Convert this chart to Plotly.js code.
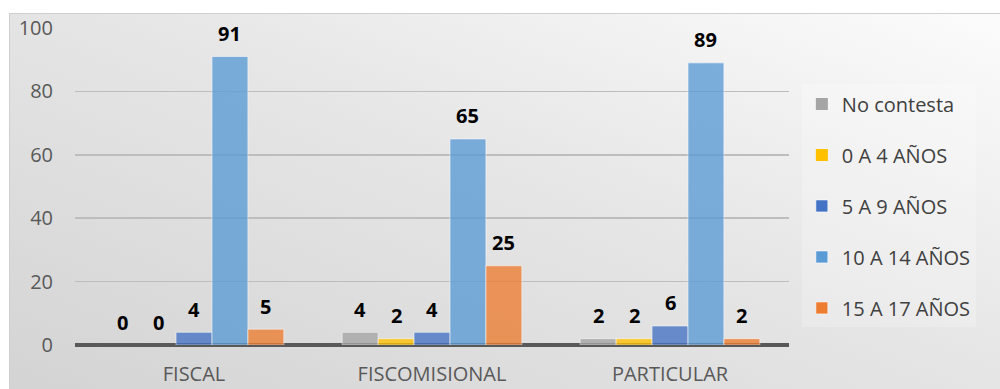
<!DOCTYPE html>
<html>
<head>
<meta charset="utf-8">
<script src="https://cdn.plot.ly/plotly-3.0.1.min.js"></script>
<style>
  html, body { margin: 0; padding: 0; background: #ffffff; }
  #frame {
    position: absolute; left: 9px; top: 13px; width: 1000px; height: 390px;
    border: 1px solid #cfcfcf; box-sizing: border-box;
    background: linear-gradient(to bottom left, #fcfcfc 0%, #e6e6e6 45%, #d3d3d3 100%);
  }
  #chart { position: absolute; left: 0; top: 0; width: 1000px; height: 389px; }
</style>
</head>
<body>
<div id="frame"></div>
<div id="chart"></div>
<script>
// Tipo de institución
const categories = ["FISCAL", "FISCOMISIONAL", "PARTICULAR"];

// Grupos de edad
const seriesNames = ["No contesta", "0 A 4 AÑOS", "5 A 9 AÑOS", "10 A 14 AÑOS", "15 A 17 AÑOS"];
const noContesta = [0, 4, 2];
const edad0a4 = [0, 2, 2];
const edad5a9 = [4, 4, 6];
const edad10a14 = [91, 65, 89];
const edad15a17 = [5, 25, 2];
const seriesValues = [noContesta, edad0a4, edad5a9, edad10a14, edad15a17];
const seriesColors = ["#a5a5a5", "#ffc000", "#4472c4", "#5b9bd5", "#ed7d31"];

const yTicks = [0, 20, 40, 60, 80, 100];

const fontFamily = "'Open Sans', 'Noto Sans', sans-serif";

const traces = seriesNames.map((name, i) => ({
  type: "bar",
  name: name,
  x: categories,
  y: seriesValues[i],
  marker: {
    color: seriesColors[i],
    opacity: 0.78,
    line: {
      color: "rgba(255,255,255,0.6)",
      // empty bars get no outline
      width: seriesValues[i].map(v => (v > 0 ? 1 : 0))
    }
  },
  legendgroup: "g" + i,
  hoverinfo: "skip"
}));

// Value labels above each bar, tied to the bar's offset within its group
const nSeries = seriesNames.length;
const bargap = 0.245;
const slot = (1 - bargap) / nSeries;
const annotations = [];
seriesValues.forEach((vals, i) => {
  vals.forEach((v, c) => {
    annotations.push({
      x: c - (1 - bargap) / 2 + slot * (i + 0.5),
      y: v,
      xref: "x", yref: "y",
      text: String(v),
      showarrow: false,
      yanchor: "middle",
      yshift: 23,
      font: { family: fontFamily, size: 20, color: "#000000", weight: "bold" }
    });
  });
});

const layout = {
  width: 1000,
  height: 389,
  margin: { l: 75, r: 211, t: 28, b: 44 },
  paper_bgcolor: "rgba(0,0,0,0)",
  plot_bgcolor: "rgba(0,0,0,0)",
  font: { family: fontFamily, color: "#595959" },
  barmode: "group",
  bargap: bargap,
  bargroupgap: 0,
  showlegend: true,
  legend: {
    x: 1.018, xanchor: "left",
    y: 0.822, yanchor: "top",
    font: { size: 20, color: "#404040" },
    bgcolor: "rgba(255,255,255,0.22)",
    tracegroupgap: 22,
    itemwidth: 30
  },
  xaxis: {
    type: "category",
    showgrid: false,
    zeroline: false,
    showline: false,
    ticks: "",
    tickfont: { size: 20, color: "#595959" },
    ticklabelstandoff: 15
  },
  yaxis: {
    range: [0, 100],
    tickvals: yTicks,
    ticktext: yTicks.map(String),
    showgrid: true,
    gridcolor: "#bdbdbd",
    gridwidth: 1.5,
    zeroline: true,
    zerolinecolor: "#595959",
    zerolinewidth: 4,
    showline: false,
    ticks: "",
    tickfont: { size: 20, color: "#595959" },
    ticklabelstandoff: 21
  },
  annotations: annotations
};

Plotly.newPlot("chart", traces, layout, { displayModeBar: false, staticPlot: true });
</script>
</body>
</html>
